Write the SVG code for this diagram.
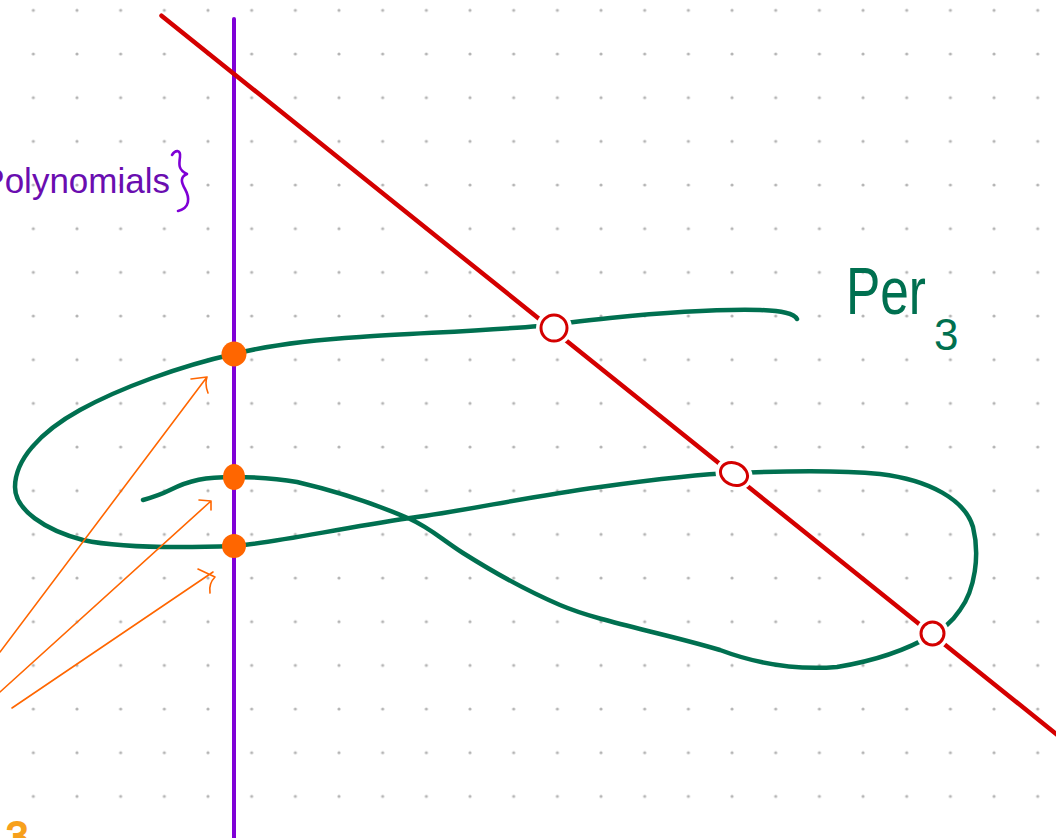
<svg xmlns="http://www.w3.org/2000/svg" width="1056" height="838" viewBox="0 0 1056 838">
  <defs>
    <pattern id="grid" patternUnits="userSpaceOnUse" x="11.5" y="-11.5" width="43.67" height="43.67">
      <circle cx="21.83" cy="21.83" r="1.6" fill="#b4b4b4"/>
    </pattern>
  </defs>
  <style>
    .purple { stroke: #7f00d6; stroke-width: 4; stroke-linecap: round; fill: none; }
    .red { stroke: #d40000; stroke-width: 4.5; stroke-linecap: round; fill: none; }
    .green { stroke: #007050; stroke-width: 4.5; stroke-linecap: round; stroke-linejoin: round; fill: none; }
    .halo { fill: #ffffff; stroke: none; }
    .ring { fill: #ffffff; stroke: #d40000; stroke-width: 3; }
    .odot { fill: #ff6600; }
    .arrow { stroke: #ff6600; stroke-width: 1.6; fill: none; stroke-linecap: round; stroke-linejoin: round; }
    .label { font-family: "Liberation Sans", Arial, sans-serif; }
  </style>
  <rect width="1056" height="838" fill="#ffffff"/>
  <rect width="1056" height="838" fill="url(#grid)"/>

  <g id="connectors">
    <path id="polynomials-line" class="purple" d="M234,19 L234,840"/>
    <path id="red-line" class="red" d="M161.5,15.7 L1060,737"/>
    <path id="per3-curve" class="green" d="M797,319 C794,313 782,311 760,310 C720,309 660,313 610,318 C580,321 560,324 540,326 C480,331 420,333 360,337 C310,340 270,345 234,354 C180,366 120,388 80,410 C40,432 15,460 15,487 C15,510 45,530 83,540 C120,548 180,548 234,546 C280,542 330,530 410,518 C470,510 520,498 600,487 C650,480 700,474 734,473 C780,471 840,470 880,474 C930,480 965,500 973,527 C980,555 975,590 960,610 C950,625 940,630 932,635 C910,648 880,660 837,667 C800,670 760,665 720,650 C660,632 600,622 560,605 C520,588 490,570 463,553 C440,538 430,528 410,519 C380,506 340,492 297,482 C270,477 250,477 234,477 C205,477 190,480 170,490 C160,495 150,498 143,500"/>
    <g id="arrows">
      <path class="arrow" d="M0,652 L207,377 M191,379 L207,377 C205,383 206,388 208,393"/>
      <path class="arrow" d="M0,692 L211,501 M199,500 L211,501 L211,510"/>
      <path class="arrow" d="M12,708 L213,572 M198,569 L215,577 C210,582 209,587 210,593"/>
    </g>
  </g>

  <g id="intersection-1">
    <circle class="halo" cx="554" cy="328" r="18"/>
    <circle class="ring" cx="554" cy="328" r="13"/>
  </g>
  <g id="intersection-2">
    <ellipse class="halo" cx="734" cy="474" rx="19" ry="16" transform="rotate(25 734 474)"/>
    <ellipse class="ring" cx="734" cy="474" rx="14" ry="11" transform="rotate(25 734 474)"/>
  </g>
  <g id="intersection-3">
    <circle class="halo" cx="932.5" cy="633.5" r="16.5"/>
    <circle class="ring" cx="932.5" cy="633.5" r="11.5"/>
  </g>

  <g id="point-1"><circle class="odot" cx="234" cy="354" r="12.5"/></g>
  <g id="point-2"><ellipse class="odot" cx="234" cy="477" rx="11" ry="13"/></g>
  <g id="point-3"><circle class="odot" cx="234" cy="546" r="12"/></g>

  <g id="polynomials-label">
    <text class="label" x="170" y="193" font-size="35" fill="#6a0db0" text-anchor="end">Polynomials</text>
    <path d="M172,155 C175,150 181,149 180,157 C179,164 178,170 187,174 C180,177 181,182 185,189 C190,198 190,208 178,211" stroke="#7f00d6" stroke-width="2.6" fill="none" stroke-linecap="round" stroke-linejoin="round"/>
  </g>

  <g id="per3-label">
    <text class="label" x="846" y="314" font-size="66" fill="#007050" textLength="80" lengthAdjust="spacingAndGlyphs">Per</text>
    <text class="label" x="934" y="350" font-size="44" fill="#007050">3</text>
  </g>

  <g id="bottom-label">
    <text class="label" x="6" y="850" font-size="40" fill="#f7a01c" stroke="#f7a01c" stroke-width="2">3</text>
  </g>
</svg>
